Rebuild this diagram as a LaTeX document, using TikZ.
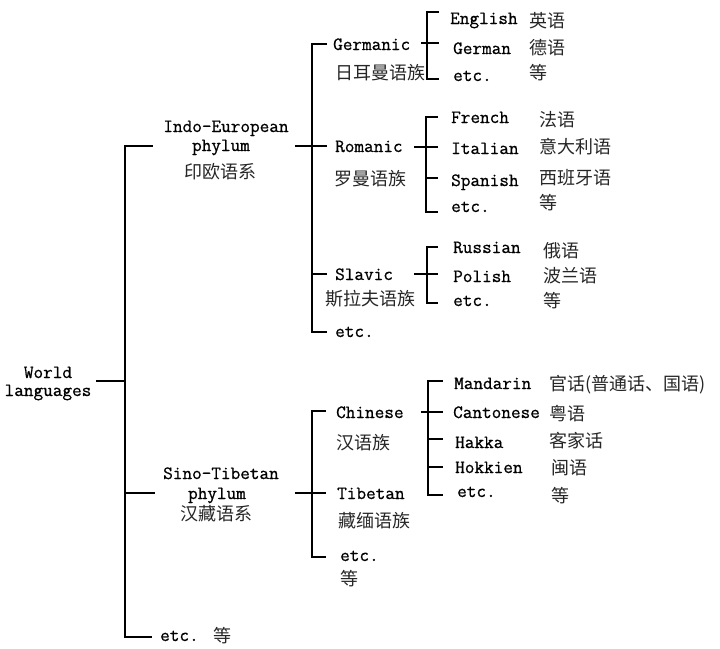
\documentclass[tikz,border=0pt]{standalone}
\usepackage{fontspec}
\newfontfamily\cjk{Noto Sans CJK SC}
\newfontfamily\latmono{Latin Modern Mono}[FakeBold=0.8]
\begin{document}
\begin{tikzpicture}[x=1pt,y=-1pt,
  br/.style={line width=1.6pt,line join=miter,line cap=rect},
  lt/.style={font=\fontsize{18.7}{20}\latmono,inner sep=0pt,anchor=base west},
  lc/.style={font=\fontsize{18.7}{20}\latmono,inner sep=0pt,anchor=base},
  zh/.style={font=\fontsize{18}{20}\cjk,text=black!85,inner sep=0pt,anchor=base west},
  zc/.style={font=\fontsize{18}{20}\cjk,text=black!85,inner sep=0pt,anchor=base}]
\useasboundingbox (0,0) rectangle (720,648);
% ---------- root ----------
\node[lc] (world) at (48,378) {World};
\node[lc] (langs) at (48,396) {languages};
\node[lc] (ie1) at (226,132) {Indo-European};
\node[lc] (ie2) at (221,151) {phylum};
\node[zc] (iez) at (220,178) {印欧语系};
\node[lc] (st1) at (221,479) {Sino-Tibetan};
\node[lc] (st2) at (217,499) {phylum};
\node[zc] (stz) at (216,520) {汉藏语系};
\node[lt] (etc0) at (160,641) {etc.};
\node[zh] (etc0z) at (213,642) {等};
% ---------- Indo-European families ----------
\node[lt] (ger) at (333,50) {Germanic};
\node[zh] (gerz) at (335,79) {日耳曼语族};
\node[lt] (rom) at (335,152) {Romanic};
\node[zh] (romz) at (334,185) {罗曼语族};
\node[lt] (sla) at (335,280) {Slavic};
\node[zh] (slaz) at (325,305) {斯拉夫语族};
\node[lt] (etc1) at (335,337) {etc.};
% Germanic languages
\node[lt] (eng) at (450,24) {English};
\node[zh] (engz) at (529,27) {英语};
\node[lt] (deu) at (453,54) {German};
\node[zh] (deuz) at (529,54) {德语};
\node[lt] (etc2) at (453,81) {etc.};
\node[zh] (etc2z) at (529,79) {等};
% Romanic languages
\node[lt] (fra) at (451,123) {French};
\node[zh] (fraz) at (539,126) {法语};
\node[lt] (ita) at (451,154) {Italian};
\node[zh] (itaz) at (539,153) {意大利语};
\node[lt] (spa) at (451,186) {Spanish};
\node[zh] (spaz) at (539,184) {西班牙语};
\node[lt] (etc3) at (451,212) {etc.};
\node[zh] (etc3z) at (539,209) {等};
% Slavic languages
\node[lt] (rus) at (453,253) {Russian};
\node[zh] (rusz) at (543,257) {俄语};
\node[lt] (pol) at (453,282) {Polish};
\node[zh] (polz) at (543,282) {波兰语};
\node[lt] (etc4) at (453,306) {etc.};
\node[zh] (etc4z) at (543,307) {等};
% ---------- Sino-Tibetan families ----------
\node[lt] (chn) at (336,418) {Chinese};
\node[zh] (chnz) at (336,449) {汉语族};
\node[lt] (tib) at (337,499) {Tibetan};
\node[zh] (tibz) at (338,527) {藏缅语族};
\node[lt] (etc5) at (340,561) {etc.};
\node[zh] (etc5z) at (340,585) {等};
% Chinese languages
\node[lt] (man) at (454,389) {Mandarin};
\node[zh] (manz) at (549,390) {官话(普通话、国语)};
\node[lt] (can) at (453,418) {Cantonese};
\node[zh] (canz) at (549,420) {粤语};
\node[lt] (hak) at (455,448) {Hakka};
\node[zh] (hakz) at (549,447) {客家话};
\node[lt] (hok) at (455,473) {Hokkien};
\node[zh] (hokz) at (551,474) {闽语};
\node[lt] (etc6) at (457,497) {etc.};
\node[zh] (etc6z) at (551,502) {等};
% ---------- brackets ----------
% root
\coordinate (Rin) at (97,381);
\coordinate (Rtop) at (125,146);
\coordinate (Rmid) at (125,493);
\coordinate (Rbot) at (125,637);
\draw[br] (Rin) -- (Rin -| Rtop);
\draw[br] ([xshift=27pt]Rtop) -- (Rtop) -- (Rbot) -- ([xshift=26pt]Rbot);
\draw[br] (Rmid) -- ([xshift=29pt]Rmid);
% Indo-European
\coordinate (Itop) at (312,44);
\coordinate (Ibot) at (312,332);
\coordinate (Iin) at (296,146);
\draw[br] (Iin) -- ([xshift=30pt]Iin);
\draw[br] ([xshift=14pt]Itop) -- (Itop) -- (Ibot) -- ([xshift=14pt]Ibot);
\draw[br] (Itop |- 0,274) -- ++(14,0);
% Germanic
\coordinate (Gtop) at (427,12);
\coordinate (Gbot) at (427,79);
\draw[br] (422,43) -- (438,43);
\draw[br] ([xshift=11pt]Gtop) -- (Gtop) -- (Gbot) -- ([xshift=11pt]Gbot);
% Romanic
\coordinate (Otop) at (426,117);
\coordinate (Obot) at (426,212);
\draw[br] (415,147) -- (437,147);
\draw[br] ([xshift=11pt]Otop) -- (Otop) -- (Obot) -- ([xshift=11pt]Obot);
\draw[br] (Otop |- 0,178) -- ++(11,0);
% Slavic
\coordinate (Stop) at (427,247);
\coordinate (Sbot) at (427,303);
\draw[br] (415,274) -- (437,274);
\draw[br] ([xshift=10pt]Stop) -- (Stop) -- (Sbot) -- ([xshift=10pt]Sbot);
% Sino-Tibetan
\coordinate (Ttop) at (312,411);
\coordinate (Tbot) at (312,557);
\coordinate (Tin) at (296,493);
\draw[br] (Tin) -- ([xshift=29pt]Tin);
\draw[br] ([xshift=13pt]Ttop) -- (Ttop) -- (Tbot) -- ([xshift=13pt]Tbot);
% Chinese
\coordinate (Ctop) at (428,381);
\coordinate (Cbot) at (428,495);
\draw[br] (422,412) -- (442,412);
\draw[br] ([xshift=14pt]Ctop) -- (Ctop) -- (Cbot) -- ([xshift=14pt]Cbot);
\draw[br] (Ctop |- 0,439) -- ++(14,0);
\draw[br] (Ctop |- 0,467) -- ++(14,0);
\end{tikzpicture}
\end{document}
